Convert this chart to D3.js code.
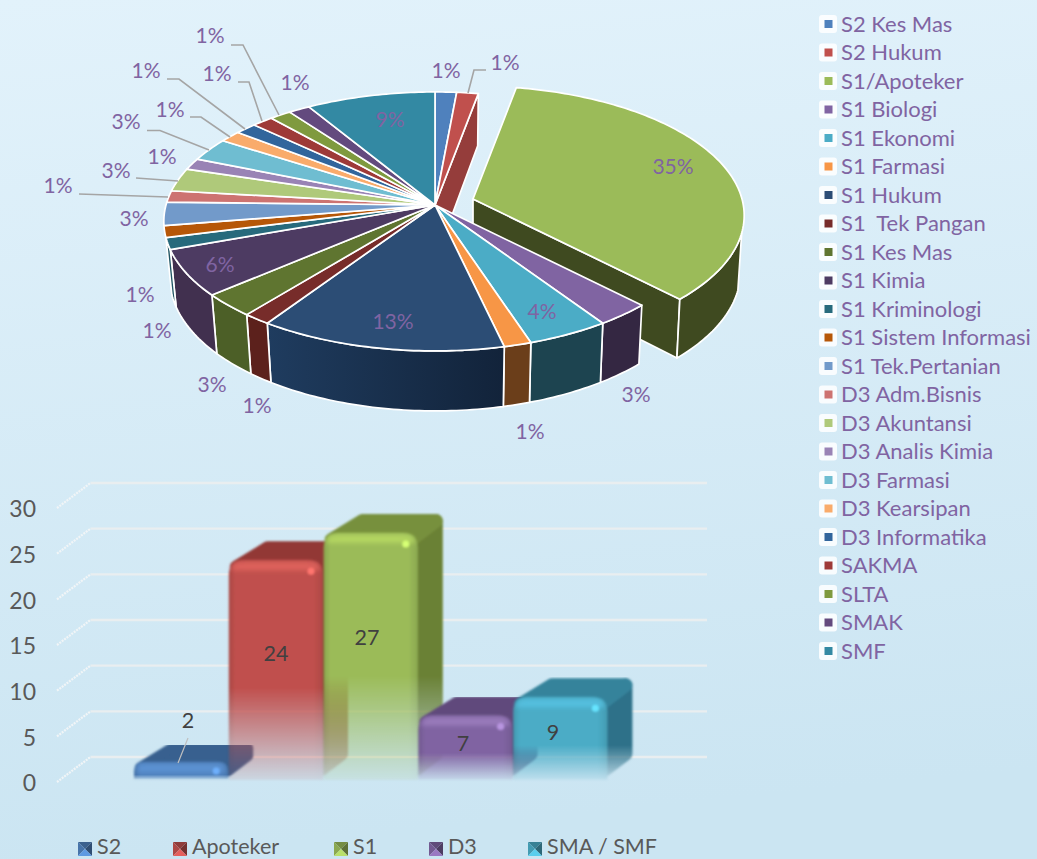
<!DOCTYPE html>
<html><head><meta charset="utf-8">
<script src="https://cdnjs.cloudflare.com/ajax/libs/d3/7.8.5/d3.min.js"></script>
<style>html,body{margin:0;padding:0;overflow:hidden}svg{display:block}text{font-family:Lato,"Open Sans",sans-serif}</style>
</head><body><svg id="c" width="1037" height="859"></svg>
<script>
// ---------- data ----------
const pieCategories = ["S2 Kes Mas","S2 Hukum","S1/Apoteker","S1 Biologi","S1 Ekonomi","S1 Farmasi","S1 Hukum","S1  Tek Pangan","S1 Kes Mas","S1 Kimia","S1 Kriminologi","S1 Sistem Informasi","S1 Tek.Pertanian","D3 Adm.Bisnis","D3 Akuntansi","D3 Analis Kimia","D3 Farmasi","D3 Kearsipan","D3 Informatika","SAKMA","SLTA","SMAK","SMF"];
const pieValues = [1,1,24,2,3,1,9,1,2,4,1,1,2,1,2,1,2,1,1,1,1,1,6];
const barCategories = ["S2","Apoteker","S1","D3","SMA / SMF"];
const barValues = [2,24,27,7,9];
const yTicks = [0,5,10,15,20,25,30];
// ---------- styles / layout ----------
const pieColors = ["#4f81bd","#c0504d","#9bbb59","#8064a2","#4bacc6","#f79646","#2c4d75","#772c2a","#5f7530","#4d3b62","#276a7c","#b65708","#729aca","#cd7371","#afc97a","#9983b5","#6fbdd1","#f9ab6b","#31659c","#9e3a38","#7f9a3f","#634a7e","#3389a3"];
const wallColors = [null,null,"#3f4a20","#342742","#1d4450","#6b3e1a","url(#hukumWall)","#5c211c","#4c5f27","#41304f","#1f5563",null,null,null,null,null,null,null,null,null,null,null,null];
const labelSpots = [[446,71],[505,63],[673,167],[636,395],[542,312],[530,432],[393,322],[257,406],[212,385],[220,265],[140,295],[157,331],[134,219],[58,186],[116,171],[162,157],[126,122],[170,110],[146,71],[217,74],[210,36],[295,83],[390,120]];
const leaderPaths = {1:[[468,93],[474,70],[486,70]],13:[[79,194],[168,197]],14:[[136,178],[178,181]],16:[[147,130.5],[160,130.5],[209,150]],17:[[190,117],[201,117],[230,137]],18:[[167,79],[179,79],[245,129]],19:[[238,82],[249,82],[262,121]],20:[[231,45],[243,45],[279,115]]};
const barFront = ["#4f81bd","#c0504d","#9bbb59","#8064a2","#4bacc6"];
const barHigh  = ["#5c92d2","#de625c","#b3d661","#9a7cbb","#55bfdf"];
const barRoof  = ["#37608f","#923835","#77903c","#604a7b","#35839b"];
const barSide  = ["#37608f","#8a3532","#6b8136","#5a4674","#2e7189"];
const legendTextColor = "#8064a2";

const svg = d3.select("#c");
const defs = svg.append("defs");
const bg = defs.append("linearGradient").attr("id","bg").attr("x1",0).attr("y1",0).attr("x2",0.12).attr("y2",1);
bg.append("stop").attr("offset",0).attr("stop-color","#e2f2fb");
bg.append("stop").attr("offset",1).attr("stop-color","#cbe5f2");
const hw = defs.append("linearGradient").attr("id","hukumWall");
hw.append("stop").attr("offset",0).attr("stop-color","#1f3c5f");
hw.append("stop").attr("offset",1).attr("stop-color","#12233a");
defs.append("filter").attr("id","soft").attr("x","-8%").attr("y","-8%").attr("width","116%").attr("height","116%")
  .append("feGaussianBlur").attr("stdDeviation",1);
defs.append("filter").attr("id","softer").attr("x","-30%").attr("y","-100%").attr("width","160%").attr("height","300%")
  .append("feGaussianBlur").attr("stdDeviation",2);
svg.append("rect").attr("width",1037).attr("height",859).attr("fill","url(#bg)");

// ---------- 3D pie ----------
const cx=435, cy=205, A=269, B=127.4, K=0.127;
function rimTop(deg,ox=0,oy=0){const t=deg*Math.PI/180,u=Math.sin(t),v=-Math.cos(t),d=1-K*v;
  return [cx+ox+A*u/d, cy+oy+B*v/d, v, u];}
function rimBot(deg,ox=0,oy=0){const p=rimTop(deg,ox,oy), shrink=p[3]>0?0.986:0.978;
  return [cx+ox+(p[0]-cx-ox)*shrink, p[1]+56+4*p[2]];}
const apex=(ox,oy)=>[cx+ox,cy+oy], apexBot=(ox,oy)=>[cx+ox,cy+oy+56];
const arcs=d3.pie().sort(null).value(d=>d)(pieValues).map((a,i)=>({i,a0:a.startAngle*180/Math.PI,a1:a.endAngle*180/Math.PI}));
const line=d3.line();
const sweep=(a0,a1)=>{const n=Math.max(2,Math.ceil((a1-a0)));return d3.range(n+1).map(k=>a0+(a1-a0)*k/n);};
const exploded=2, ex=38, ey=-6;
const pieG=svg.append("g").attr("stroke","#fff").attr("stroke-linejoin","round");
function drawTop(s,ox,oy){
  const pts=[apex(ox,oy),...sweep(s.a0,s.a1).map(a=>rimTop(a,ox,oy).slice(0,2))];
  pieG.append("path").attr("d",line(pts)+"Z").attr("fill",pieColors[s.i]).attr("stroke-width",1.7);
}
function drawOuter(s,ox,oy){
  const a0=Math.max(s.a0,105), a1=s.a1;
  const up=sweep(a0,a1).map(a=>rimTop(a,ox,oy).slice(0,2));
  const dn=sweep(a0,a1).map(a=>rimBot(a,ox,oy)).reverse();
  pieG.append("path").attr("d",line([...up,...dn])+"Z").attr("fill",wallColors[s.i]).attr("stroke-width",1.7);
}
function drawRadial(s,ox,oy,fill){
  const p=rimTop(s.a1,ox,oy).slice(0,2), q=rimBot(s.a1,ox,oy);
  pieG.append("path").attr("d",line([apex(ox,oy),p,q,apexBot(ox,oy)])+"Z").attr("fill",fill).attr("stroke-width",1.7);
}
drawRadial(arcs[exploded],ex,ey,wallColors[exploded]);
drawOuter(arcs[exploded],ex,ey);
drawTop(arcs[exploded],ex,ey);
drawRadial(arcs[1],0,0,"#953d3b");
arcs.filter(s=>s.i!==exploded&&wallColors[s.i]).forEach(s=>drawOuter(s,0,0));
arcs.filter(s=>s.i!==exploded).forEach(s=>drawTop(s,0,0));

const total=d3.sum(pieValues), pct=d3.format(".0%");
Object.values(leaderPaths).forEach(p=>svg.append("path").attr("d",line(p)).attr("fill","none").attr("stroke","#a5a5a5").attr("stroke-width",1.6));
svg.append("g").selectAll("text").data(pieValues).join("text")
  .attr("x",(d,i)=>labelSpots[i][0]).attr("y",(d,i)=>labelSpots[i][1]).attr("dy","0.35em")
  .attr("text-anchor","middle").attr("font-size",21).attr("fill",legendTextColor)
  .text(d=>pct(d/total));

// ---------- pie legend ----------
const lgY=d3.scalePoint().domain(pieCategories).range([24,651]);
const lg=svg.append("g").selectAll("g").data(pieCategories).join("g").attr("transform",d=>`translate(819,${lgY(d)})`);
lg.append("rect").attr("x",0).attr("y",-9).attr("width",18).attr("height",18).attr("rx",3).attr("fill","#fff").attr("opacity",0.85);
lg.append("rect").attr("x",5.5).attr("y",-4).attr("width",8).attr("height",8).attr("fill",(d,i)=>pieColors[i]);
lg.append("text").attr("x",22).attr("dy","0.35em").attr("font-size",22).attr("fill",legendTextColor).style("white-space","pre").text(d=>d);

// ---------- 3D bars ----------
const x=d3.scaleBand().domain(barCategories).range([134,608]);
const y=d3.scaleLinear().domain([0,30]).range([782,508]);
const dx=25, dy=-19, gx=33.5, gy=-25;
const grid=svg.append("g");
grid.selectAll("path.b").data(yTicks).join("path").attr("class","b")
  .attr("d",d=>line([[57+gx,y(d)+gy],[707,y(d)+gy]])).attr("stroke","#e9eef0").attr("stroke-width",2.4).attr("fill","none");
grid.selectAll("path.s").data(yTicks).join("path").attr("class","s")
  .attr("d",d=>line([[57,y(d)],[57+gx,y(d)+gy]])).attr("stroke","#f1f5f7").attr("stroke-width",2.2).attr("stroke-dasharray","2 1").attr("fill","none");

const yAxis=d3.axisLeft(y).tickValues(yTicks).tickSize(0).tickPadding(0);
const ax=svg.append("g").attr("transform","translate(36,1.5)").call(yAxis);
ax.select(".domain").remove();
ax.selectAll("text").attr("font-size",23).attr("fill","#595959").style("font-family","Lato");

barCategories.forEach((c,i)=>{
  const v=barValues[i], x0=x(c), x1=x0+x.bandwidth()-0.6, t=y(v)-2.5+(v<3?1:0), b=780, h=b-t, r=Math.min(15,h/2);
  const fadeStart=t+h*(v<3?0.7:0.58);
  const g0=defs.append("linearGradient").attr("id","fade"+i).attr("gradientUnits","userSpaceOnUse").attr("x1",0).attr("x2",0).attr("y1",fadeStart).attr("y2",b);
  g0.append("stop").attr("offset",0).attr("stop-color","#fff");
  g0.append("stop").attr("offset",1).attr("stop-color","#fff").attr("stop-opacity",0.1);
  defs.append("mask").attr("id","m"+i).attr("maskUnits","userSpaceOnUse").attr("x",0).attr("y",0).attr("width",1037).attr("height",859)
    .append("rect").attr("width",1037).attr("height",859).attr("fill",`url(#fade${i})`);
  const fg=defs.append("linearGradient").attr("id","front"+i);
  [[0,d3.rgb(barFront[i]).darker(0.35)],[0.07,barFront[i]],[0.9,barFront[i]],[1,d3.rgb(barFront[i]).darker(0.3)]]
    .forEach(([o,col])=>fg.append("stop").attr("offset",o).attr("stop-color",col));
  const m=svg.append("g").attr("mask",`url(#m${i})`).append("g").attr("filter","url(#soft)");
  const ins=v<3?5:7;
  // side
  m.append("path").attr("d",line([[x1-ins,t+ins+2],[x1+dx-ins,t+dy+ins],[x1+dx-ins,b+dy-ins],[x1-ins,b-ins]])+"Z")
    .attr("fill",barSide[i]).attr("stroke",barSide[i]).attr("stroke-width",ins*2).attr("stroke-linejoin","round");
  // roof
  m.append("path").attr("d",line([[x0+ins+1,t+ins],[x0+dx+ins+7,t+dy+ins],[x1+dx-ins,t+dy+ins],[x1-ins,t+ins]])+"Z")
    .attr("fill",barRoof[i]).attr("stroke",barRoof[i]).attr("stroke-width",ins*2).attr("stroke-linejoin","round");
  // front
  m.append("path").attr("d",`M${x0},${b}V${t+r}Q${x0},${t} ${x0+r},${t}H${x1-r}Q${x1},${t} ${x1},${t+r}V${b}Z`).attr("fill",`url(#front${i})`);
  // top bevel highlight
  const hh=Math.min(8,h/2);
  m.append("path").attr("d",`M${x0+3},${t+hh+2}Q${x0+3},${t+2} ${x0+r},${t+2}H${x1-r}Q${x1-3},${t+2} ${x1-3},${t+hh+2}Z`).attr("fill",barHigh[i]).attr("filter","url(#softer)");
  m.append("circle").attr("cx",x1-12).attr("cy",t+Math.min(11,h/2)).attr("r",Math.min(3.5,h/5)).attr("fill",d3.rgb(barHigh[i]).brighter(0.5));
});
// value labels
const barLabelSpots=[[188,720],[276,653],[367,637],[463,743],[553,732]];
svg.append("path").attr("d",line([[188,738],[178,763]])).attr("stroke","#bfbfbf").attr("stroke-width",1.2).attr("fill","none");
svg.append("g").selectAll("text").data(barValues).join("text")
  .attr("x",(d,i)=>barLabelSpots[i][0]).attr("y",(d,i)=>barLabelSpots[i][1]).attr("dy","0.35em")
  .attr("text-anchor","middle").attr("font-size",21.5).attr("fill","#404040").text(d=>d);

// bottom legend
const bottomLegendX=[78,173,334,429,528];
const bl=svg.append("g").selectAll("g").data(barCategories).join("g").attr("transform",(d,i)=>`translate(${bottomLegendX[i]},842)`);
bl.each(function(d,i){
  const g=d3.select(this), s=14, c=s/2, col=d3.rgb(barFront[i]);
  g.append("path").attr("d",line([[0,0],[s,0],[c,c]])+"Z").attr("fill",col.darker(0.8));
  g.append("path").attr("d",line([[0,0],[0,s],[c,c]])+"Z").attr("fill",col.darker(0.3));
  g.append("path").attr("d",line([[s,0],[s,s],[c,c]])+"Z").attr("fill",col.darker(1.4));
  g.append("path").attr("d",line([[0,s],[s,s],[c,c]])+"Z").attr("fill",col.brighter(0.5));
});
bl.append("text").attr("x",19).attr("y",4.5).attr("dy","0.35em").attr("font-size",21.5).attr("fill","#595959").text(d=>d);
</script></body></html>
